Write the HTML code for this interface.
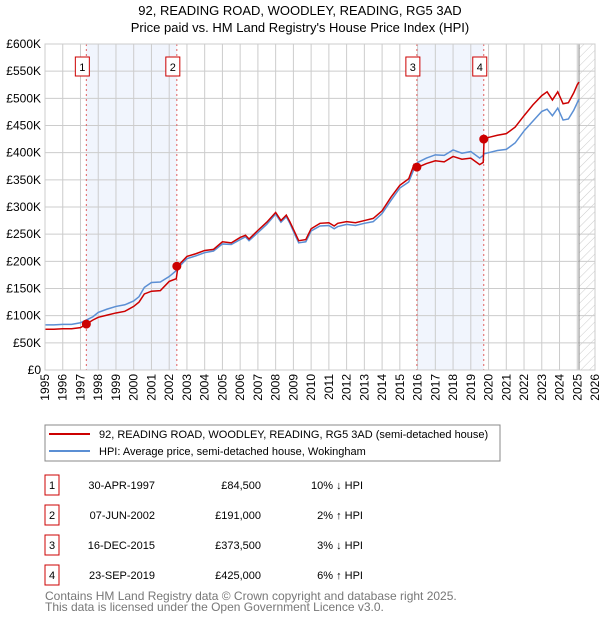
<!DOCTYPE html>
<html><head><meta charset="utf-8"><style>
body{margin:0;background:#fff;width:600px;height:620px;overflow:hidden}
svg{display:block;font-family:"Liberation Sans","DejaVu Sans",sans-serif}
</style></head><body>
<svg id="c" width="600" height="620" viewBox="0 0 600 620">
<defs><pattern id="hatch" width="6" height="6" patternUnits="userSpaceOnUse" patternTransform="rotate(45)"><line x1="0" y1="0" x2="0" y2="6" stroke="#ccc" stroke-width="1"/></pattern></defs>
<text x="300" y="15" text-anchor="middle" font-size="13" fill="#000">92, READING ROAD, WOODLEY, READING, RG5 3AD</text>
<text x="300" y="32" text-anchor="middle" font-size="13" fill="#000">Price paid vs. HM Land Registry's House Price Index (HPI)</text>
<g id="plot"></g>
<g>
<rect x="45" y="425" width="455" height="36" fill="#fff" stroke="#888"/>
<line x1="49" y1="434" x2="90" y2="434" stroke="#cc0000" stroke-width="2"/>
<text x="99" y="438" font-size="11">92, READING ROAD, WOODLEY, READING, RG5 3AD (semi-detached house)</text>
<line x1="49" y1="451" x2="90" y2="451" stroke="#5b8fd4" stroke-width="2"/>
<text x="99" y="455" font-size="11">HPI: Average price, semi-detached house, Wokingham</text>
</g>
<g id="table" font-size="11"></g>
<text x="45" y="600" font-size="12" fill="#777">Contains HM Land Registry data © Crown copyright and database right 2025.</text>
<text x="45" y="611" font-size="12" fill="#777">This data is licensed under the Open Government Licence v3.0.</text>
</svg>
<script>
const dates=[1995,1995.5,1996,1996.5,1997,1997.33,1997.7,1998,1998.5,1999,1999.5,2000,2000.3,2000.6,2001,2001.5,2002,2002.4,2002.5,2003,2003.5,2004,2004.5,2005,2005.5,2006,2006.3,2006.5,2007,2007.5,2008,2008.3,2008.6,2008.8,2009.1,2009.3,2009.7,2010,2010.5,2011,2011.3,2011.5,2012,2012.5,2013,2013.5,2014,2014.5,2015,2015.5,2015.8,2016,2016.5,2017,2017.5,2018,2018.5,2019,2019.5,2019.7,2019.75,2020,2020.5,2021,2021.5,2022,2022.5,2023,2023.3,2023.6,2023.9,2024.2,2024.5,2024.8,2025,2025.1];
const hpiValues=[83,83,84,84,87,92,98,106,112,117,120,127,135,152,161,162,172,183,188,205,210,216,219,232,231,240,245,238,253,268,287,272,282,270,248,234,236,256,265,266,260,264,268,266,270,273,288,312,335,346,370,382,390,396,395,405,399,402,390,395,398,400,404,406,418,440,458,476,480,468,482,460,462,478,492,498];
const priceValues=[75,75,76,76,78,84.5,92,97,101,105,108,117,125,140,145,146,163,168,192,209,214,220,222,236,234,244,248,241,257,272,290,275,285,273,252,238,240,260,270,271,265,270,273,271,275,279,293,318,340,352,378,373,380,385,383,393,388,390,378,382,425,428,432,435,447,468,488,505,512,497,512,490,492,510,525,530];
const saleLabels=["1","2","3","4"];
const saleDates=[1997.33,2002.43,2015.96,2019.73];
const salePrices=[84.5,191,373.5,425];
const saleDateText=["30-APR-1997","07-JUN-2002","16-DEC-2015","23-SEP-2019"];
const salePriceText=["£84,500","£191,000","£373,500","£425,000"];
const saleHpiText=["10% ↓ HPI","2% ↑ HPI","3% ↓ HPI","6% ↑ HPI"];
const yTicks=[0,50,100,150,200,250,300,350,400,450,500,550,600];
const yTickLabels=["£0","£50K","£100K","£150K","£200K","£250K","£300K","£350K","£400K","£450K","£500K","£550K","£600K"];
const xTicks=[1995,1996,1997,1998,1999,2000,2001,2002,2003,2004,2005,2006,2007,2008,2009,2010,2011,2012,2013,2014,2015,2016,2017,2018,2019,2020,2021,2022,2023,2024,2025,2026];

const L=45,R=595,T=44,B=370,NS="http://www.w3.org/2000/svg";
const x=v=>L+(v-1995)/(2026-1995)*(R-L);
const y=v=>B-v/600*(B-T);
const g=document.getElementById('plot');
function mk(tag,attrs,parent){const e=document.createElementNS(NS,tag);for(const k in attrs)e.setAttribute(k,attrs[k]);(parent||g).appendChild(e);return e;}
// shaded ranges
for(let i=0;i<4;i+=2){
 const r=mk('rect',{x:x(saleDates[i]),y:T,width:x(saleDates[i+1])-x(saleDates[i]),height:B-T,fill:'#eef3fc',opacity:0.8});
 
 
}
// hatch future
const hx=x(2025.1);
const h=mk('rect',{x:hx,y:T,width:R-hx,height:B-T,fill:'url(#hatch)'});


// grid
yTicks.forEach((t,i)=>{
 const l=mk('line',{x1:L,x2:R,y1:y(t),y2:y(t),stroke:'#ccc','stroke-width':1});
 
 
 const tx=mk('text',{x:L-4,y:y(t)+4,'text-anchor':'end','font-size':12});
 tx.textContent=yTickLabels[i];
 
 
});
xTicks.forEach(t=>{
 const l=mk('line',{x1:x(t),x2:x(t),y1:T,y2:B,stroke:'#ccc','stroke-width':1});
 
 
 const tx=mk('text',{x:0,y:0,'text-anchor':'end','font-size':12,transform:`translate(${x(t)+4},${B+4}) rotate(-90)`});
 tx.textContent=t;
 
 
});
const vl=mk('line',{x1:hx,x2:hx,y1:T,y2:B,stroke:'#888','stroke-width':1});


// sale lines
saleDates.forEach(d=>{
 const l=mk('line',{x1:x(d),x2:x(d),y1:T,y2:B,stroke:'#e06060','stroke-width':1,'stroke-dasharray':'2,3'});
 
 
});
// series
const hp=mk('polyline',{points:dates.map((d,i)=>x(d)+','+y(hpiValues[i])).join(' '),fill:'none',stroke:'#5b8fd4','stroke-width':1.5});


const pp=mk('polyline',{points:dates.map((d,i)=>x(d)+','+y(priceValues[i])).join(' '),fill:'none',stroke:'#cc0000','stroke-width':1.5});


saleDates.forEach((d,i)=>{
 const c=mk('circle',{cx:x(d),cy:y(salePrices[i]),r:4.5,fill:'#cc0000'});
 
 
 const b=mk('rect',{x:x(d)-11,y:57,width:14,height:19,fill:'#fff',stroke:'#cc0000'});
 
 
 const t=mk('text',{x:x(d)-4,y:71,'text-anchor':'middle','font-size':11});
 t.textContent=saleLabels[i];
 
 
});
mk('rect',{x:L,y:T,width:R-L,height:B-T,fill:'none',stroke:'#ccc'});
// table
const tb=document.getElementById('table');
saleLabels.forEach((s,i)=>{
 const ry=475+i*30;
 const b=mk('rect',{x:45,y:ry,width:14,height:20,fill:'#fff',stroke:'#cc0000'},tb);
 
 
 const cols=[[52,'middle',s,'table-row-number'],[155,'end',saleDateText[i],'table-row-date'],[261,'end',salePriceText[i],'table-row-price'],[363,'end',saleHpiText[i],'table-row-hpi']];
 cols.forEach(c=>{
  const t=mk('text',{x:c[0],y:ry+14,'text-anchor':c[1]},tb);
  t.textContent=c[2];
  
  
 });
});
</script>
</body></html>
